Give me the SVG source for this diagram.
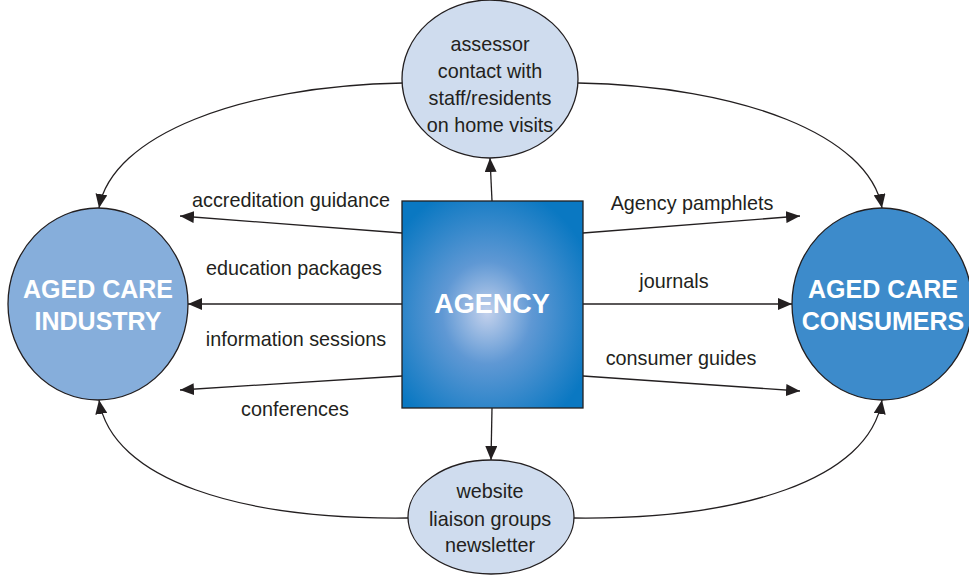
<svg xmlns="http://www.w3.org/2000/svg" width="969" height="575" viewBox="0 0 969 575">
  <style>
    .edge { fill: none; stroke: #231f20; stroke-width: 1.3; marker-end: url(#arrow); }
    .node { stroke: #231f20; stroke-width: 1.3; }
    .lbl { font-family: "Liberation Sans", Arial, sans-serif; font-size: 19.8px; fill: #231f20; }
    .big { font-family: "Liberation Sans", Arial, sans-serif; font-weight: bold; fill: #ffffff; text-anchor: middle; }
  </style>
  <defs>
    <marker id="arrow" viewBox="0 0 14 12" refX="14" refY="6" markerWidth="14" markerHeight="12" markerUnits="userSpaceOnUse" orient="auto">
      <path d="M0,0 L14,6 L0,12 Z" fill="#231f20"/>
    </marker>
    <radialGradient id="agencyFill" cx="0.47" cy="0.54" r="0.62">
      <stop offset="0" stop-color="#c3d1ec"/>
      <stop offset="0.4" stop-color="#5f98d4"/>
      <stop offset="1" stop-color="#0a78c2"/>
    </radialGradient>
  </defs>

  <rect width="969" height="575" fill="#ffffff"/>

  <g id="connectors">
    <!-- agency to industry -->
    <line class="edge" x1="402" y1="233" x2="180" y2="216"/>
    <line class="edge" x1="402" y1="304" x2="188" y2="304"/>
    <line class="edge" x1="402" y1="376" x2="180" y2="390"/>
    <!-- agency to consumers -->
    <line class="edge" x1="583" y1="233" x2="800" y2="216"/>
    <line class="edge" x1="583" y1="304" x2="792" y2="304"/>
    <line class="edge" x1="583" y1="376" x2="800" y2="391"/>
    <!-- agency to visits / publications -->
    <line class="edge" x1="492" y1="201" x2="490" y2="158"/>
    <line class="edge" x1="492" y1="408" x2="491" y2="460"/>
    <!-- outer arcs -->
    <path class="edge" d="M403,83 C240,86 112,135 99,208"/>
    <path class="edge" d="M578,83 C741,86 869,135 882,208"/>
    <path class="edge" d="M408,518 C240,520 112,480 99,400"/>
    <path class="edge" d="M573,518 C741,520 869,480 882,400"/>
  </g>

  <g id="industry">
    <ellipse class="node" cx="98" cy="304" rx="90" ry="96" fill="#86aedb"/>
    <text class="big" font-size="25" x="98" y="298">AGED CARE</text>
    <text class="big" font-size="25" x="98" y="330">INDUSTRY</text>
  </g>

  <g id="consumers">
    <ellipse class="node" cx="882" cy="304" rx="90" ry="96" fill="#3d8bcb"/>
    <text class="big" font-size="25" x="883" y="298">AGED CARE</text>
    <text class="big" font-size="25" x="883" y="330">CONSUMERS</text>
  </g>

  <g id="agency">
    <rect class="node" x="402" y="201" width="181" height="207" fill="url(#agencyFill)"/>
    <text class="big" font-size="27" x="492" y="313">AGENCY</text>
  </g>

  <g id="home-visits">
    <ellipse class="node" cx="490" cy="79" rx="88" ry="79" fill="#cfdcee"/>
    <text class="lbl" text-anchor="middle" x="490" y="51">assessor</text>
    <text class="lbl" text-anchor="middle" x="490" y="78">contact with</text>
    <text class="lbl" text-anchor="middle" x="490" y="105">staff/residents</text>
    <text class="lbl" text-anchor="middle" x="490" y="132">on home visits</text>
  </g>

  <g id="publications">
    <ellipse class="node" cx="491" cy="517" rx="83" ry="57" fill="#cfdcee"/>
    <text class="lbl" text-anchor="middle" x="490" y="498">website</text>
    <text class="lbl" text-anchor="middle" x="490" y="526">liaison groups</text>
    <text class="lbl" text-anchor="middle" x="490" y="552">newsletter</text>
  </g>

  <g id="edge-labels">
    <text class="lbl" text-anchor="middle" x="291" y="207">accreditation guidance</text>
    <text class="lbl" text-anchor="middle" x="294" y="275">education packages</text>
    <text class="lbl" text-anchor="middle" x="296" y="346">information sessions</text>
    <text class="lbl" text-anchor="middle" x="295" y="416">conferences</text>
    <text class="lbl" text-anchor="middle" x="692" y="210">Agency pamphlets</text>
    <text class="lbl" text-anchor="middle" x="674" y="288">journals</text>
    <text class="lbl" text-anchor="middle" x="681" y="365">consumer guides</text>
  </g>
</svg>
